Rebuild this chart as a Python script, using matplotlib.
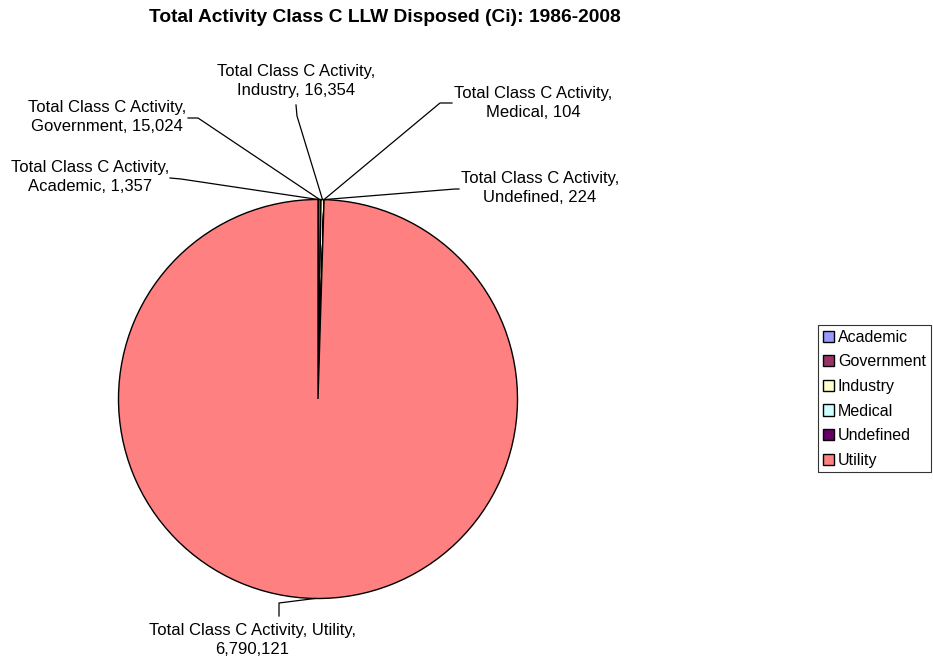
import matplotlib
matplotlib.use("Agg")
import matplotlib.pyplot as plt
from matplotlib.patches import Patch
from matplotlib.lines import Line2D
import numpy as np

plt.rcParams['font.family'] = ['Liberation Sans', 'DejaVu Sans']

categories = ["Academic", "Government", "Industry", "Medical", "Undefined", "Utility"]
values = [1357, 15024, 16354, 104, 224, 6790121]
value_labels = ["1,357", "15,024", "16,354", "104", "224", "6,790,121"]
colors = ["#9999FF", "#993366", "#FFFFCC", "#CCFFFF", "#660066", "#FF8080"]
title = "Total Activity Class C LLW Disposed (Ci): 1986-2008"
series_name = "Total Class C Activity"

W, H = 933, 659
fig = plt.figure(figsize=(W / 100, H / 100), dpi=100)

cx, cy, r = 318, 399, 199.5
ax = fig.add_axes([(cx - r) / W, (H - cy - r) / H, 2 * r / W, 2 * r / H])
wedges, _ = ax.pie(values, colors=colors, startangle=90, counterclock=False,
                   wedgeprops=dict(edgecolor="black", linewidth=1.0))
ax.set_xlim(-1, 1)
ax.set_ylim(-1, 1)
ax.axis("off")

fig.text(385 / W, 1 - 18 / H, title, ha="center", va="center",
         fontsize=13.8, fontweight="bold")

FS = 12
# label placement (figure pixels, y from top): text center, leader start, elbow
label_layout = {
    "Academic":   dict(tx=90,  ty=177, p0=(170, 178), p1=(181, 179)),
    "Government": dict(tx=107, ty=117, p0=(188, 118), p1=(198, 118)),
    "Industry":   dict(tx=296, ty=81,  p0=(296, 105), p1=(297, 116)),
    "Medical":    dict(tx=533, ty=103, p0=(452, 103), p1=(440, 103)),
    "Undefined":  dict(tx=540, ty=188, p0=(459, 189), p1=(455, 189)),
    "Utility":    dict(tx=252, ty=640, p0=(279, 616), p1=(279, 603)),
}

def fig_pt(px, py):
    return (px / W, 1 - py / H)

for w, cat, vl in zip(wedges, categories, value_labels):
    lay = label_layout[cat]
    if cat == "Utility":
        txt = f"{series_name}, {cat},\n{vl}"
    else:
        txt = f"{series_name},\n{cat}, {vl}"
    x, y = fig_pt(lay["tx"], lay["ty"])
    fig.text(x, y, txt, ha="center", va="center", fontsize=FS,
             linespacing=1.28, multialignment="center")
    ang = np.deg2rad((w.theta1 + w.theta2) / 2)
    ex, ey = np.cos(ang), np.sin(ang)
    disp = ax.transData.transform((ex, ey))
    fx, fy = fig.transFigure.inverted().transform(disp)
    a0 = fig_pt(*lay["p0"])
    a1 = fig_pt(*lay["p1"])
    fig.add_artist(Line2D([a0[0], a1[0], fx], [a0[1], a1[1], fy],
                          transform=fig.transFigure, color="black", linewidth=0.9))

handles = [Patch(facecolor=c, edgecolor="black", linewidth=1.0) for c in colors]
leg = fig.legend(handles, categories, loc="upper left",
                 bbox_to_anchor=(818 / W, 1 - 325 / H),
                 fontsize=11.5, frameon=True, fancybox=False, shadow=False,
                 handlelength=0.7, handleheight=0.7, handletextpad=0.25,
                 labelspacing=0.6, borderpad=0.3, borderaxespad=0.0)
leg.get_frame().set_edgecolor("black")
leg.get_frame().set_linewidth(0.8)

fig.savefig("out.png", dpi=100)
